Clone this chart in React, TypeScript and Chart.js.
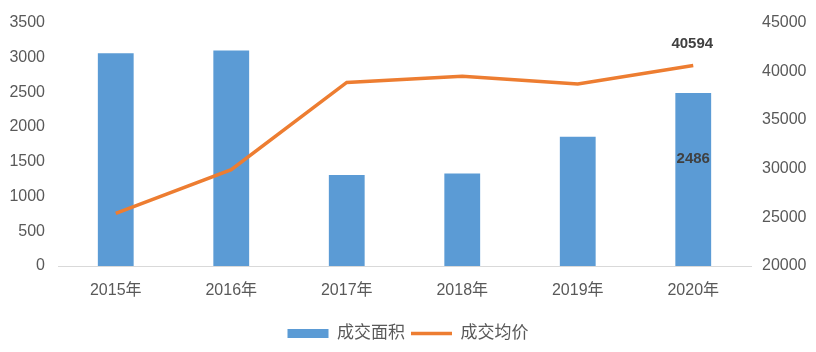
import React, { useEffect, useRef } from "react";
import { Chart, registerables } from "chart.js";

Chart.register(...registerables);

const categories = ["2015年", "2016年", "2017年", "2018年", "2019年", "2020年"];
const areaValues = [3060, 3100, 1310, 1330, 1860, 2486];
const priceValues = [25400, 29900, 38850, 39500, 38700, 40594];
const areaLabel = "成交面积";
const priceLabel = "成交均价";

const FONT = "'Liberation Sans', 'Noto Sans CJK SC', sans-serif";

const labelPlugin = {
  id: "valueLabels",
  afterDatasetsDraw(chart: any) {
    const ctx = chart.ctx;
    ctx.save();
    ctx.font = `bold 15px ${FONT}`;
    ctx.fillStyle = "#404040";
    ctx.textAlign = "center";
    ctx.textBaseline = "middle";
    const last = categories.length - 1;
    const lineMeta = chart.getDatasetMeta(1);
    const pt = lineMeta.data[last];
    if (pt) ctx.fillText(String(priceValues[last]), pt.x - 1, pt.y - 22);
    const barMeta = chart.getDatasetMeta(0);
    const bar = barMeta.data[last];
    if (bar) {
      const y = bar.y + (bar.base - bar.y) * 0.38;
      ctx.fillText(String(areaValues[last]), bar.x, y);
    }
    ctx.restore();
  },
};

export default function App() {
  const ref = useRef<HTMLCanvasElement>(null);
  useEffect(() => {
    if (!ref.current) return;
    const chart = new Chart(ref.current, {
      type: "bar",
      data: {
        labels: categories,
        datasets: [
          {
            type: "bar",
            label: areaLabel,
            data: areaValues,
            backgroundColor: "#5B9BD5",
            borderWidth: 0,
            barPercentage: 0.31,
            categoryPercentage: 1,
            yAxisID: "y",
            order: 2,
            pointStyle: "rect",
          } as any,
          {
            type: "line",
            label: priceLabel,
            data: priceValues,
            borderColor: "#ED7D31",
            backgroundColor: "#ED7D31",
            borderWidth: 3.5,
            pointRadius: 0,
            tension: 0,
            yAxisID: "y1",
            order: 1,
            pointStyle: "line",
          } as any,
        ],
      },
      options: {
        animation: false,
        responsive: false,
        layout: { padding: { top: 19, bottom: 0, left: 0, right: 0 } },
        plugins: {
          legend: {
            position: "bottom",
            labels: {
              usePointStyle: true,
              pointStyleWidth: 41,
              boxHeight: 9,
              color: "#595959",
              font: { family: FONT, size: 17 },
              padding: 6,
              sort: (a: any, b: any) => a.datasetIndex - b.datasetIndex,
            },
          },
          tooltip: { enabled: false },
        },
        scales: {
          x: {
            grid: { display: false, drawTicks: false },
            border: { display: true, color: "#d9d9d9", width: 1 },
            ticks: {
              color: "#595959",
              font: { family: FONT, size: 16 },
              padding: 15,
              maxRotation: 0,
            },
            afterFit: (s: any) => {
              s.height = 53;
            },
          },
          y: {
            position: "left",
            min: 0,
            max: 3500,
            grid: { display: false, drawTicks: false },
            border: { display: false },
            ticks: {
              stepSize: 500,
              color: "#595959",
              font: { family: FONT, size: 16 },
              padding: 13,
              callback: (v: any) => String(v),
            },
            afterFit: (s: any) => {
              s.width = 58;
            },
          },
          y1: {
            position: "right",
            min: 20000,
            max: 45000,
            grid: { display: false, drawTicks: false },
            border: { display: false },
            ticks: {
              stepSize: 5000,
              color: "#595959",
              font: { family: FONT, size: 16 },
              padding: 11,
              callback: (v: any) => String(v),
            },
            afterFit: (s: any) => {
              s.width = 65;
            },
          },
        },
      },
      plugins: [labelPlugin],
    } as any);
    return () => chart.destroy();
  }, []);
  return (
    <div style={{ position: "fixed", left: 0, top: 0, width: 816, height: 352, background: "#fff" }}>
      <canvas ref={ref} width={816} height={352} style={{ width: 816, height: 352, display: "block" }} />
    </div>
  );
}
